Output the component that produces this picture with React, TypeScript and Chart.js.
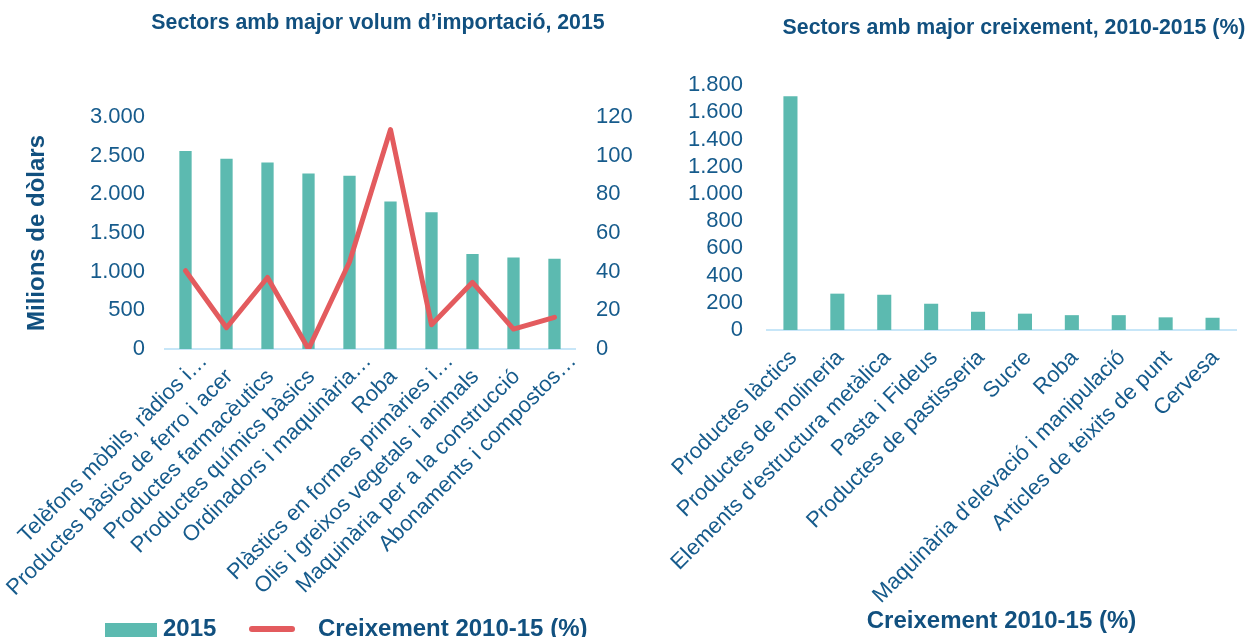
import React, { useEffect, useRef } from 'react';
import { Chart, registerables } from 'chart.js';

Chart.register(...registerables);

// ---------- data ----------
const importCategories = [
  'Telèfons mòbils, ràdios i…',
  'Productes bàsics de ferro i acer',
  'Productes farmacèutics',
  'Productes químics bàsics',
  'Ordinadors i maquinària…',
  'Roba',
  'Plàstics en formes primàries i…',
  'Olis i greixos vegetals i animals',
  'Maquinària per a la construcció',
  'Abonaments i compostos…',
];
const imports2015 = [2559, 2460, 2412, 2269, 2239, 1906, 1768, 1228, 1184, 1167];
const growth2010to15 = [40.5, 11, 37, 0, 45, 113.5, 12.5, 34.5, 10.3, 16.4];

const growthCategories = [
  'Productes làctics',
  'Productes de molineria',
  "Elements d'estructura metàlica",
  'Pasta i Fideus',
  'Productes de pastisseria',
  'Sucre',
  'Roba',
  "Maquinària d'elevació i manipulació",
  'Articles de teixits de punt',
  'Cervesa',
];
const topGrowth = [1718, 267, 259, 193, 134, 120, 109, 109, 93, 90];

const seriesNames = ['2015', 'Creixement 2010-15 (%)'];
const leftTitle = 'Sectors amb major volum d’importació, 2015';
const rightTitle = 'Sectors amb major creixement, 2010-2015 (%)';
const leftAxisTitle = 'Milions de dòlars';
const rightAxisTitle = 'Creixement 2010-15 (%)';

const leftAxis = { min: 0, max: 3000, step: 500 };
const leftAxis2 = { min: 0, max: 120, step: 20 };
const rightAxis = { min: 0, max: 1800, step: 200 };

// ---------- style ----------
const FONT = "'Liberation Sans', Arial, Helvetica, sans-serif";
const TEXT = '#165b8c';
const TITLE = '#11507f';
const TEAL = '#5cbab0';
const RED = '#e35b5e';
const AXIS = '#c7e6f8';
const ELLIPSIS = '…';

const fmt = (v: number | string) =>
  String(v).replace(/\B(?=(\d{3})+(?!\d))/g, '.');

const tickFont = { family: FONT, size: 22 };
const boldFont = { family: FONT, size: 24, weight: 'bold' as const };

// category label without its trailing ellipsis (the ellipsis is drawn after the
// tick anchor, as the original spreadsheet chart does)
function stripEllipsis(this: any, value: any) {
  const l = String(this.getLabelForValue(value));
  return l.endsWith(ELLIPSIS) ? l.slice(0, -1) : l;
}

const ellipsisPlugin = {
  id: 'tickEllipsis',
  afterDraw(chart: any) {
    const s = chart.scales.x;
    if (!s || !s.getLabelItems) return;
    const items = s.getLabelItems();
    const labels = chart.data.labels as string[];
    const ctx = chart.ctx;
    items.forEach((it: any, i: number) => {
      const full = labels[i];
      if (!full || !full.endsWith(ELLIPSIS)) return;
      const o = it.options;
      ctx.save();
      ctx.translate(o.translation[0], o.translation[1]);
      ctx.rotate(o.rotation);
      ctx.font = it.font.string;
      ctx.fillStyle = o.color;
      ctx.textAlign = 'left';
      ctx.textBaseline = o.textBaseline || 'middle';
      const off = it.textOffset !== undefined ? it.textOffset : it.font.lineHeight / 2;
      ctx.fillText(ELLIPSIS, 0, off);
      ctx.restore();
    });
  },
};

const xTicks = {
  color: TEXT,
  font: tickFont,
  minRotation: 45,
  maxRotation: 45,
  autoSkip: false,
  padding: 15,
  labelOffset: 3,
  callback: stripEllipsis,
};

export default function App() {
  const leftRef = useRef<HTMLCanvasElement>(null);
  const rightRef = useRef<HTMLCanvasElement>(null);

  useEffect(() => {
    const left = new Chart(leftRef.current!, {
      type: 'bar',
      data: {
        labels: importCategories,
        datasets: [
          {
            type: 'line',
            label: seriesNames[1],
            data: growth2010to15,
            yAxisID: 'y1',
            borderColor: RED,
            backgroundColor: RED,
            borderWidth: 5,
            pointRadius: 0,
            tension: 0,
            borderCapStyle: 'round',
            borderJoinStyle: 'round',
            order: 0,
          } as any,
          {
            type: 'bar',
            label: seriesNames[0],
            data: imports2015,
            yAxisID: 'y',
            backgroundColor: TEAL,
            barPercentage: 0.3,
            categoryPercentage: 1,
            order: 1,
          },
        ],
      },
      plugins: [ellipsisPlugin],
      options: {
        responsive: false,
        animation: false,
        devicePixelRatio: 1,
        layout: { padding: { top: 117, left: 0, right: 0, bottom: 0 } },
        plugins: {
          legend: { display: false },
          tooltip: { enabled: false },
          title: { display: false },
        },
        scales: {
          x: {
            grid: { display: false, drawTicks: false },
            border: { display: true, color: AXIS, width: 2 },
            ticks: xTicks,
            afterFit: (s: any) => {
              s.height = 288;
              s.paddingLeft = 0;
              s.paddingRight = 0;
            },
          },
          y: {
            position: 'left',
            min: leftAxis.min,
            max: leftAxis.max,
            grid: { display: false, drawTicks: false },
            border: { display: false },
            ticks: {
              stepSize: leftAxis.step,
              autoSkip: false,
              color: TEXT,
              font: tickFont,
              padding: 20,
              callback: (v: any) => fmt(v),
            },
            title: {
              display: true,
              text: leftAxisTitle,
              color: TITLE,
              font: boldFont,
              padding: { top: 23, bottom: 0 },
            },
            afterFit: (s: any) => {
              s.width = 165;
            },
          },
          y1: {
            position: 'right',
            min: leftAxis2.min,
            max: leftAxis2.max,
            grid: { display: false, drawTicks: false },
            border: { display: false },
            ticks: {
              stepSize: leftAxis2.step,
              autoSkip: false,
              color: TEXT,
              font: tickFont,
              padding: 21,
              callback: (v: any) => fmt(v),
            },
            afterFit: (s: any) => {
              s.width = 65;
            },
          },
        },
      } as any,
    });

    const right = new Chart(rightRef.current!, {
      type: 'bar',
      data: {
        labels: growthCategories,
        datasets: [
          {
            label: rightAxisTitle,
            data: topGrowth,
            backgroundColor: TEAL,
            barPercentage: 0.3,
            categoryPercentage: 1,
          },
        ],
      },
      plugins: [ellipsisPlugin],
      options: {
        responsive: false,
        animation: false,
        devicePixelRatio: 1,
        layout: { padding: { top: 85, left: 0, right: 11, bottom: 0 } },
        plugins: {
          legend: { display: false },
          tooltip: { enabled: false },
          title: { display: false },
        },
        scales: {
          x: {
            grid: { display: false, drawTicks: false },
            border: { display: true, color: AXIS, width: 2 },
            ticks: xTicks,
            title: {
              display: true,
              text: rightAxisTitle,
              color: TITLE,
              font: boldFont,
              padding: { top: 0, bottom: 1 },
            },
            afterFit: (s: any) => {
              s.height = 307;
              s.paddingLeft = 0;
              s.paddingRight = 0;
            },
          },
          y: {
            min: rightAxis.min,
            max: rightAxis.max,
            grid: { display: false, drawTicks: false },
            border: { display: false },
            ticks: {
              stepSize: rightAxis.step,
              autoSkip: false,
              color: TEXT,
              font: tickFont,
              padding: 24,
              callback: (v: any) => fmt(v),
            },
            afterFit: (s: any) => {
              s.width = 127;
            },
          },
        },
      } as any,
    });

    return () => {
      left.destroy();
      right.destroy();
    };
  }, []);

  const titleStyle = (cx: number, cy: number): React.CSSProperties => ({
    position: 'absolute',
    left: cx,
    top: cy - 10.5,
    transform: 'translateX(-50%)',
    whiteSpace: 'nowrap',
    fontFamily: FONT,
    fontWeight: 'bold',
    fontSize: 21.3,
    lineHeight: '21px',
    color: TITLE,
  });

  const legendText = (x: number): React.CSSProperties => ({
    position: 'absolute',
    left: x,
    top: 616,
    whiteSpace: 'nowrap',
    fontFamily: FONT,
    fontWeight: 'bold',
    fontSize: 24,
    lineHeight: '24px',
    color: TITLE,
  });

  return (
    <div
      style={{
        position: 'fixed',
        left: 0,
        top: 0,
        width: 1247,
        height: 637,
        overflow: 'hidden',
        background: '#ffffff',
      }}
    >
      <canvas
        ref={leftRef}
        width={640}
        height={637}
        style={{ position: 'absolute', left: 0, top: 0, width: 640, height: 637 }}
      />
      <canvas
        ref={rightRef}
        width={607}
        height={637}
        style={{ position: 'absolute', left: 640, top: 0, width: 607, height: 637 }}
      />
      <div style={titleStyle(378, 22)}>{leftTitle}</div>
      <div style={titleStyle(1014, 27)}>{rightTitle}</div>
      <div
        style={{
          position: 'absolute',
          left: 105,
          top: 623,
          width: 52,
          height: 14,
          background: TEAL,
        }}
      />
      <div style={legendText(163)}>{seriesNames[0]}</div>
      <div
        style={{
          position: 'absolute',
          left: 249,
          top: 626,
          width: 46,
          height: 6,
          borderRadius: 3,
          background: RED,
        }}
      />
      <div style={legendText(318)}>{seriesNames[1]}</div>
    </div>
  );
}
